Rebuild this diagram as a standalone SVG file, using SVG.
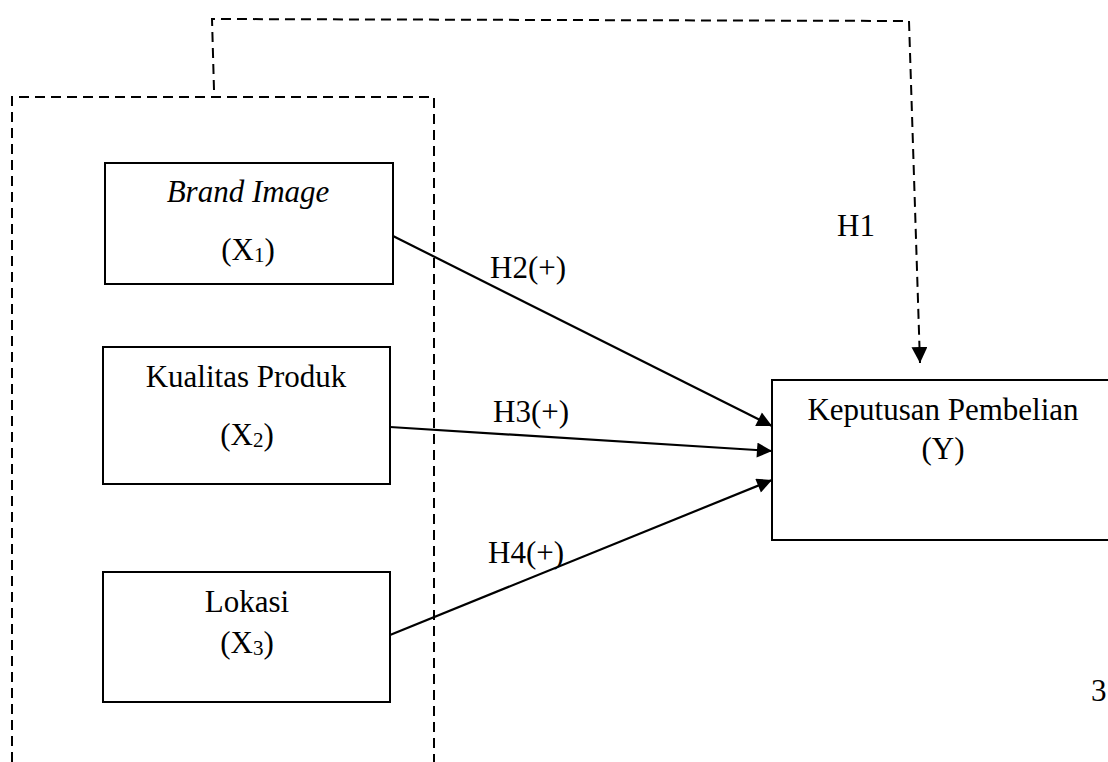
<svg xmlns="http://www.w3.org/2000/svg" width="1108" height="762" viewBox="0 0 1108 762">
<style>
text{font-family:"Liberation Serif","Times New Roman",serif;font-size:31px;fill:#000}
.box{fill:#fff;stroke:#000;stroke-width:2}
.dash{fill:none;stroke:#000;stroke-width:2;stroke-dasharray:10 6}
.arr{fill:none;stroke:#000;stroke-width:2.2}
.sub{font-size:21px}
</style>
<defs>
<marker id="ah" viewBox="0 0 10 10" refX="10" refY="5" markerWidth="16" markerHeight="15" markerUnits="userSpaceOnUse" orient="auto">
<path d="M0,0 L10,5 L0,10 Z" fill="#000"/>
</marker>
<marker id="ahd" viewBox="0 0 10 10" refX="10" refY="5" markerWidth="16" markerHeight="16" markerUnits="userSpaceOnUse" orient="auto">
<path d="M0,0 L10,5 L0,10 Z" fill="#000"/>
</marker>
</defs>
<g id="group-box">
<path class="dash" d="M12,762 L12,97 L434,97 L434,762"/>
</g>
<g id="connectors">
<path class="dash" d="M214,90 L212,19 L909,21"/>
<path class="dash" d="M909,21 L920,363" marker-end="url(#ahd)"/>
<line class="arr" x1="389" y1="234" x2="772" y2="426" marker-end="url(#ah)"/>
<line class="arr" x1="390" y1="427" x2="772" y2="451" marker-end="url(#ah)"/>
<line class="arr" x1="390" y1="635" x2="772" y2="480" marker-end="url(#ah)"/>
<text x="837" y="236">H1</text>
<text x="490" y="278">H2(+)</text>
<text x="493" y="422">H3(+)</text>
<text x="488" y="563">H4(+)</text>
</g>
<g id="node-x1">
<rect class="box" x="105" y="163" width="288" height="121"/>
<text x="248" y="202" text-anchor="middle" font-style="italic">Brand Image</text>
<text x="248" y="260" text-anchor="middle">(X<tspan class="sub" dy="2">1</tspan><tspan dy="-2">)</tspan></text>
</g>
<g id="node-x2">
<rect class="box" x="103" y="347" width="287" height="137"/>
<text x="246" y="387" text-anchor="middle">Kualitas Produk</text>
<text x="247" y="445" text-anchor="middle">(X<tspan class="sub" dy="2">2</tspan><tspan dy="-2">)</tspan></text>
</g>
<g id="node-x3">
<rect class="box" x="103" y="572" width="287" height="130"/>
<text x="247" y="612" text-anchor="middle">Lokasi</text>
<text x="247" y="653" text-anchor="middle">(X<tspan class="sub" dy="2">3</tspan><tspan dy="-2">)</tspan></text>
</g>
<g id="node-y">
<rect class="box" x="772" y="380" width="340" height="160"/>
<text x="943" y="420" text-anchor="middle">Keputusan Pembelian</text>
<text x="943" y="459" text-anchor="middle">(Y)</text>
</g>
<text x="1091" y="701">3</text>
</svg>
